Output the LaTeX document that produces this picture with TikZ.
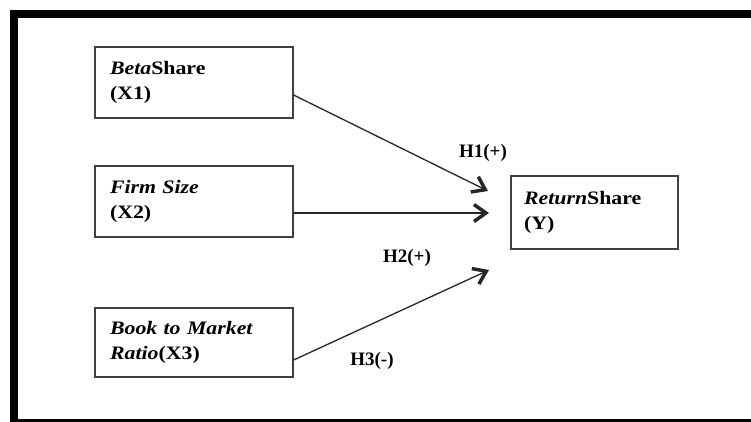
\documentclass[tikz,border=0pt]{standalone}
\usepackage{fontspec}
\setmainfont{Liberation Serif}
\newfontfamily\boxfont{Liberation Serif}[FakeStretch=1.15]
\usepackage{tikz}
\usetikzlibrary{positioning}
\usetikzlibrary{arrows.meta}

\begin{document}
\begin{tikzpicture}[x=1pt,y=-1pt,node distance=119pt,on grid,thick]
    % estilos de las cajas y etiquetas
    \tikzstyle{varbox}=[draw=black!75,line width=1.2pt,minimum height=71pt,text width=168pt,inner xsep=15pt,align=left,font=\boxfont\bfseries\fontsize{19}{25}\selectfont]
    \tikzstyle{hyp}=[font=\bfseries\fontsize{19}{22}\selectfont]
    \tikzstyle{every edge}=[draw,color=black!85,line width=1.3pt,-{Straight Barb[length=12pt,width=17pt,line width=3.5pt 0]}]
    \useasboundingbox (0,0) rectangle (751,421);
    \clip (0,0) rectangle (751,421);
    \draw[line width=8.5pt] (14,13.75) rectangle (770,423);
    \node[varbox] (x_1) at (194,82.5) {\textit{Beta}Share\\(X1)};
    \node[varbox] (x_2) [below=of x_1] {\textit{Firm Size}\\(X2)};
    \node[varbox,minimum height=69pt] (x_3) [below=141pt of x_2] {\textit{Book to Market}\\\textit{Ratio}(X3)};
    \node[varbox,text width=141pt,inner xsep=13pt,minimum height=73pt] (y) at (594.5,212.5) {\textit{Return}Share\\(Y)};
    \coordinate (t_1) at (488,191);
    \coordinate (t_2) at (489,213);
    \coordinate (t_3) at (489,270);
    \path
    ([yshift=-12.5pt]x_1.east) edge (t_1)
    ([yshift=-11.5pt]x_2.east) edge (t_2)
    ([yshift=-17.5pt]x_3.east) edge (t_3);
    \node[hyp] (h_1) at (483,153) {H1(+)};
    \node[hyp] (h_2) at (407,258) {H2(+)};
    \node[hyp] (h_3) at (372,361) {H3(-)};
\end{tikzpicture}
\end{document}
